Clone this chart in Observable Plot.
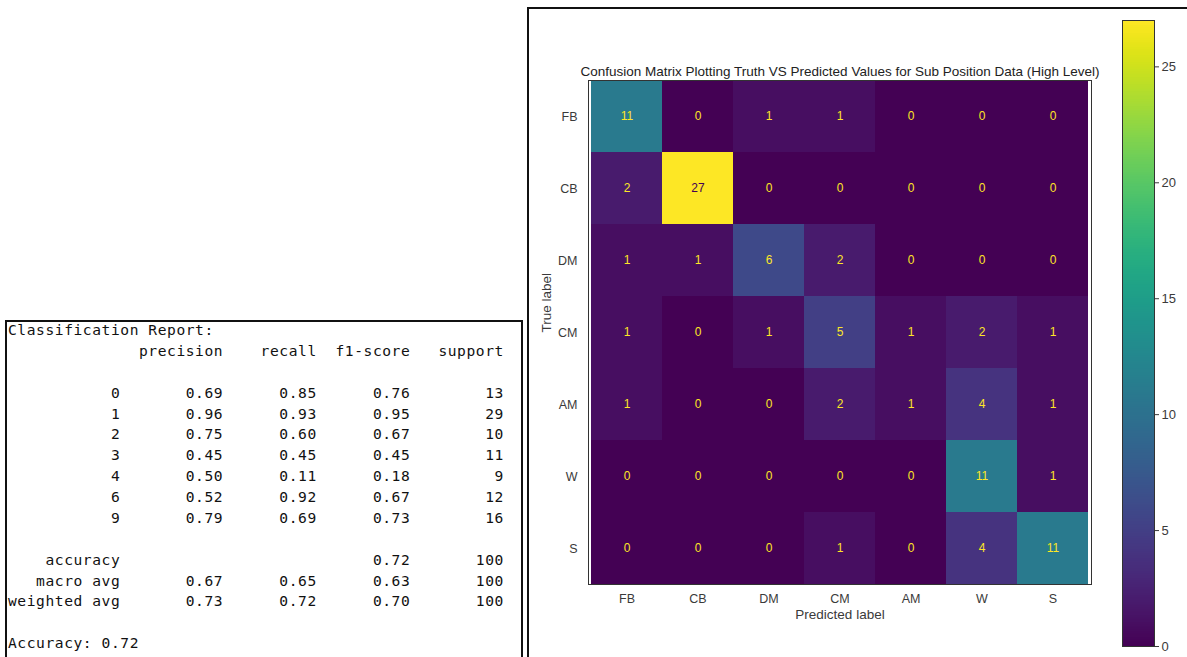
<!DOCTYPE html>
<html>
<head>
<meta charset="utf-8">
<script src="https://cdn.jsdelivr.net/npm/d3@7"></script>
<script src="https://cdn.jsdelivr.net/npm/@observablehq/plot@0.6"></script>
<style>
  html, body { margin: 0; padding: 0; background: #fff; }
  body { width: 1187px; height: 657px; position: relative; overflow: hidden; }
  #report {
    position: absolute; left: 5px; top: 320px; width: 518px; height: 360px;
    border: 2px solid #111; box-sizing: border-box; overflow: hidden;
  }
  #report pre {
    margin: 0; position: absolute; left: 1px; top: -2px;
    font-family: "DejaVu Sans Mono", "Liberation Mono", monospace;
    font-size: 14.6px; letter-spacing: 0.57px; line-height: 20.87px; color: #111;
  }
  #panel {
    position: absolute; left: 527px; top: 7px; width: 700px; height: 700px;
    border: 2px solid #111; box-sizing: border-box;
  }
  #matrix { position: absolute; left: 528px; top: 8px; }
  #colorbar { position: absolute; left: 1100px; top: 0px; }
</style>
</head>
<body>
<div id="report"><pre id="reportText"></pre></div>
<div id="panel"></div>
<div id="matrix"></div>
<div id="colorbar"></div>
<script>
// Class labels (predicted columns / true rows)
const labels = ["FB", "CB", "DM", "CM", "AM", "W", "S"];

// Confusion matrix counts, one array per true label
const rowFB = [11, 0, 1, 1, 0, 0, 0];
const rowCB = [2, 27, 0, 0, 0, 0, 0];
const rowDM = [1, 1, 6, 2, 0, 0, 0];
const rowCM = [1, 0, 1, 5, 1, 2, 1];
const rowAM = [1, 0, 0, 2, 1, 4, 1];
const rowW  = [0, 0, 0, 0, 0, 11, 1];
const rowS  = [0, 0, 0, 1, 0, 4, 11];
const rows = [rowFB, rowCB, rowDM, rowCM, rowAM, rowW, rowS];

// Colorbar ticks
const colorTicks = [0, 5, 10, 15, 20, 25];

// Classification report values
const reportClasses = ["0", "1", "2", "3", "4", "6", "9"];
const precision = [0.69, 0.96, 0.75, 0.45, 0.50, 0.52, 0.79];
const recall    = [0.85, 0.93, 0.60, 0.45, 0.11, 0.92, 0.69];
const f1score   = [0.76, 0.95, 0.67, 0.45, 0.18, 0.67, 0.73];
const support   = [13, 29, 10, 11, 9, 12, 16];
const accuracy = 0.72;
const macroAvg = [0.67, 0.65, 0.63, 100];
const weightedAvg = [0.73, 0.72, 0.70, 100];

// ---- text report, laid out like sklearn's classification_report ----
const pad = (s, n) => String(s).padStart(n);
const f2 = v => v.toFixed(2);
let lines = [];
lines.push("Classification Report:");
lines.push(pad("", 12) + " " + pad("precision", 10) + pad("recall", 10) + pad("f1-score", 10) + pad("support", 10));
lines.push("");
reportClasses.forEach((c, i) => {
  lines.push(pad(c, 12) + " " + pad(f2(precision[i]), 10) + pad(f2(recall[i]), 10) + pad(f2(f1score[i]), 10) + pad(support[i], 10));
});
lines.push("");
lines.push(pad("accuracy", 12) + " " + pad("", 10) + pad("", 10) + pad(f2(accuracy), 10) + pad(100, 10));
lines.push(pad("macro avg", 12) + " " + pad(f2(macroAvg[0]), 10) + pad(f2(macroAvg[1]), 10) + pad(f2(macroAvg[2]), 10) + pad(macroAvg[3], 10));
lines.push(pad("weighted avg", 12) + " " + pad(f2(weightedAvg[0]), 10) + pad(f2(weightedAvg[1]), 10) + pad(f2(weightedAvg[2]), 10) + pad(weightedAvg[3], 10));
lines.push("");
lines.push("Accuracy: " + f2(accuracy));
document.getElementById("reportText").textContent = lines.join("\n");

// ---- confusion matrix ----
const cells = [];
rows.forEach((r, i) => r.forEach((v, j) => cells.push({truth: labels[i], predicted: labels[j], value: v})));
const vmax = 27;
const threshold = vmax / 2;
const sansFont = "'Liberation Sans', Arial, sans-serif";

const matrix = Plot.plot({
  width: 580,
  height: 649,
  marginLeft: 60,
  marginTop: 72,
  marginRight: 17,
  marginBottom: 73,
  style: {fontFamily: sansFont, fontSize: "12px", color: "#3a3a3a", background: "transparent"},
  x: {domain: labels, padding: 0, label: null},
  y: {domain: labels, padding: 0, label: null},
  color: {type: "linear", scheme: "viridis", domain: [0, vmax]},
  marks: [
    Plot.cell(cells, {x: "predicted", y: "truth", fill: "value", inset: 0}),
    Plot.text(cells, {
      x: "predicted", y: "truth", text: d => String(d.value),
      fill: d => d.value < threshold ? "#fde725" : "#440154",
      fontSize: 12
    }),
    Plot.frame({stroke: "#333", strokeWidth: 1}),
    Plot.axisX({anchor: "bottom", tickSize: 0, tickPadding: 10, fontSize: 12.5, label: null}),
    Plot.axisY({anchor: "left", tickSize: 0, tickPadding: 11, fontSize: 12.5, label: null}),
    Plot.text(["Predicted label"], {frameAnchor: "bottom", dy: 34, fontSize: 13.5, fill: "#3a3a3a"}),
    Plot.text(["True label"], {frameAnchor: "left", dx: -42, rotate: -90, fontSize: 13.5, fill: "#3a3a3a"}),
    Plot.text(["Confusion Matrix Plotting Truth VS Predicted Values for Sub Position Data (High Level)"],
      {frameAnchor: "top", dy: -5, lineAnchor: "bottom", fontSize: 13.5, fill: "#222"})
  ]
});
document.getElementById("matrix").append(matrix);

// ---- vertical colorbar sharing the same viridis scale ----
const colorbar = Plot.plot({
  width: 87,
  height: 657,
  marginLeft: 22,
  marginRight: 33,
  marginTop: 20,
  marginBottom: 11,
  style: {fontFamily: sansFont, fontSize: "12px", color: "#3a3a3a", background: "transparent"},
  x: {domain: [0, 1], axis: null},
  y: {domain: [0, vmax], axis: null},
  color: {type: "linear", scheme: "viridis", domain: [0, vmax]},
  marks: [
    Plot.raster({x1: 0, x2: 1, y1: 0, y2: vmax, width: 1, height: 540, fill: (x, y) => y, imageRendering: "auto"}),
    Plot.frame({stroke: "#333", strokeWidth: 1}),
    Plot.axisY(colorTicks, {anchor: "right", tickSize: 4, tickPadding: 3, fontSize: 13, label: null})
  ]
});
document.getElementById("colorbar").append(colorbar);
</script>
</body>
</html>
